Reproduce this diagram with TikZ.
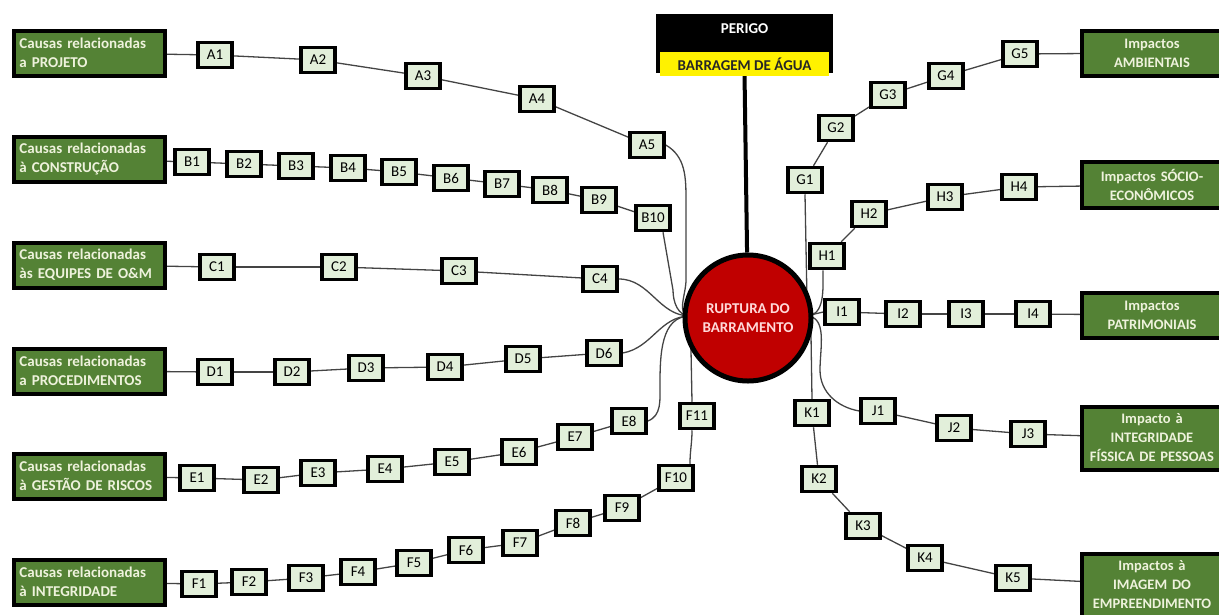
\documentclass[tikz,border=0pt]{standalone}
\usepackage{fontspec}
\setmainfont{Carlito}
\usetikzlibrary{backgrounds}
\definecolor{boxgreen}{HTML}{548235}
\definecolor{lightbox}{HTML}{E2EFDA}
\definecolor{txtgreen}{HTML}{EEF2DC}
\definecolor{linegray}{HTML}{444444}
\definecolor{darkred}{HTML}{C00000}
\tikzset{
  sbox/.style={draw=black, line width=3.5pt, fill=lightbox, minimum width=34pt, minimum height=25pt, inner sep=1pt, font=\fontsize{15}{16}\selectfont},
  causebox/.style={draw=black, line width=4pt, fill=boxgreen, minimum width=151pt, minimum height=45pt, text width=140pt, align=left, inner sep=0pt, text=txtgreen, font=\bfseries\fontsize{15}{19}\selectfont, anchor=west},
  impbox/.style={draw=black, line width=4pt, fill=boxgreen, minimum width=140pt, text width=138pt, align=center, inner sep=0pt, text=txtgreen, font=\bfseries\fontsize{14.5}{19}\selectfont, anchor=west},
  conn/.style={draw=linegray, line width=1.3pt},
}
\begin{document}
\begin{tikzpicture}[x=1pt,y=-1pt]
\useasboundingbox (0,0) rectangle (1219,614);
% cause boxes
\node[causebox] (CA) at (12,53) {Causas relacionadas\\a PROJETO};
\node[causebox] (CB) at (12,159) {Causas relacionadas\\à CONSTRUÇÃO};
\node[causebox] (CC) at (12,265) {Causas relacionadas\\às EQUIPES DE O\&M};
\node[causebox] (CD) at (12,371) {Causas relacionadas\\a PROCEDIMENTOS};
\node[causebox] (CE) at (12,476) {Causas relacionadas\\à GESTÃO DE RISCOS};
\node[causebox] (CF) at (12,582) {Causas relacionadas\\à INTEGRIDADE};
% impact boxes
\node[impbox, minimum height=45pt] (IG) at (1080,53) {Impactos\\AMBIENTAIS};
\node[impbox, minimum height=46pt] (IH) at (1080,185) {Impactos SÓCIO-\\ECONÔMICOS};
\node[impbox, minimum height=45pt] (II) at (1080,315) {Impactos\\PATRIMONIAIS};
\node[impbox, minimum height=63pt] (IJ) at (1080,438) {Impacto à\\INTEGRIDADE\\FÍSSICA DE PESSOAS};
\node[impbox, minimum height=63pt] (IK) at (1080,585) {Impactos à\\IMAGEM DO\\EMPREENDIMENTO};
% small boxes
\foreach \n/\x/\y in {A1/215/55, A2/318/60, A3/423/76, A4/537/99, A5/647/145,
  B1/192/162, B2/244/164, B3/296/166, B4/348/168, B5/399/172, B6/451/178, B7/502/184, B8/550/190, B9/599/200, B10/653/218,
  C1/217/267, C2/339/267, C3/459/271, C4/600/279,
  D1/215/372, D2/292/372, D3/366/368, D4/445/367, D5/523/359, D6/604/353,
  E1/197/478, E2/261/480, E3/318/473, E4/385/469, E5/452/462, E6/519/452, E7/575/437, E8/629/421,
  F1/199/584, F2/249/582, F3/306/578, F4/358/572, F5/414/563, F6/466/550, F7/520/543, F8/573/523, F9/622/508, F10/676/478, F11/697/416,
  G1/805/180, G2/836/128, G3/888/95, G4/946/76, G5/1020/54,
  H1/827/256, H2/869/214, H3/945/197, H4/1019/187,
  I1/842/312, I2/903/314, I3/966/314, I4/1033/314,
  J1/878/411, J2/954/428, J3/1028/434,
  K1/812/413, K2/819/479, K3/863/526, K4/925/558, K5/1013/578}
  \node[sbox] (\n) at (\x,\y) {\n};
% hazard box
\node[draw=black, fill=black, line width=2pt, minimum width=175pt, minimum height=57pt, anchor=north] (PER) at (744.5,14) {};
\node[fill=yellow, minimum width=169pt, minimum height=24pt, inner sep=0pt, anchor=south, font=\bfseries\fontsize{15}{17}\selectfont, text=black!85] (BAR) at ([yshift=-3pt]PER.south) {BARRAGEM DE ÁGUA};
\node[font=\bfseries\fontsize{15}{17}\selectfont, text=white] (PT) at (744.5,29) {PERIGO};
% central circle
\node[circle, draw=black, line width=5pt, fill=darkred, minimum size=126pt, align=center, inner sep=0pt, text=white!85!red, font=\bfseries\fontsize{15}{19}\selectfont] (R) at (748,318) {RUPTURA DO\\BARRAMENTO};
\coordinate (cw) at (690,316);
\coordinate (ce) at (806,316);
\begin{scope}[on background layer]
  \draw[black, line width=4pt] (PER.south) -- (R);
  % chains
  \foreach \a/\b in {CA/A1, A1/A2, A2/A3, A3/A4, A4/A5,
    CB/B1, B1/B2, B2/B3, B3/B4, B4/B5, B5/B6, B6/B7, B7/B8, B8/B9, B9/B10,
    CC/C1, C1/C2, C2/C3, C3/C4,
    CD/D1, D1/D2, D2/D3, D3/D4, D4/D5, D5/D6,
    CE/E1, E1/E2, E2/E3, E3/E4, E4/E5, E5/E6, E6/E7, E7/E8,
    CF/F1, F1/F2, F2/F3, F3/F4, F4/F5, F5/F6, F6/F7, F7/F8, F8/F9, F9/F10,
    G1/G2, G2/G3, G3/G4, G4/G5, G5/IG,
    H1/H2, H2/H3, H3/H4, H4/IH,
    I1/I2, I2/I3, I3/I4, I4/II,
    J1/J2, J2/J3, J3/IJ,
    K1/K2, K2/K3, K3/K4, K4/K5, K5/IK}
    \draw[conn] (\a) -- (\b);
  \draw[conn] (F10.north) ++(14,0) to[out=-90+180,in=-90] ([xshift=-5pt]F11.south);
  % to circle, left
  \draw[conn] (A5.east) to[out=-30,in=90] (686,200) -- (686,280) to[out=-90,in=180] (cw);
  \draw[conn] (B10.south) ++(10,0) -- (673,290) to[out=-90,in=180] (cw);
  \draw[conn] (C4.east) to[out=0,in=180] (cw);
  \draw[conn] (D6.east) to[out=10,in=180] (cw);
  \draw[conn] (E8.east) to[out=20,in=-90] (660,385) to[out=90,in=180] (cw);
  \draw[conn] (F11.north) ++(-5,0) -- (691,350) to[out=90,in=180] (cw);
  % to circle, right
  \draw[conn] (G1.south) -- (807,300) to[out=-90,in=0] (ce);
  \draw[conn] (H1.south) ++(-4,0) to[out=-90,in=0] (ce);
  \draw[conn] (I1.west) -- (ce);
  \draw[conn] (J1.west) to[out=170,in=-90] (820,370) to[out=90,in=0] (ce);
  \draw[conn] (K1.north) -- (811,335) to[out=90,in=0] (ce);
\end{scope}
\end{tikzpicture}
\end{document}
